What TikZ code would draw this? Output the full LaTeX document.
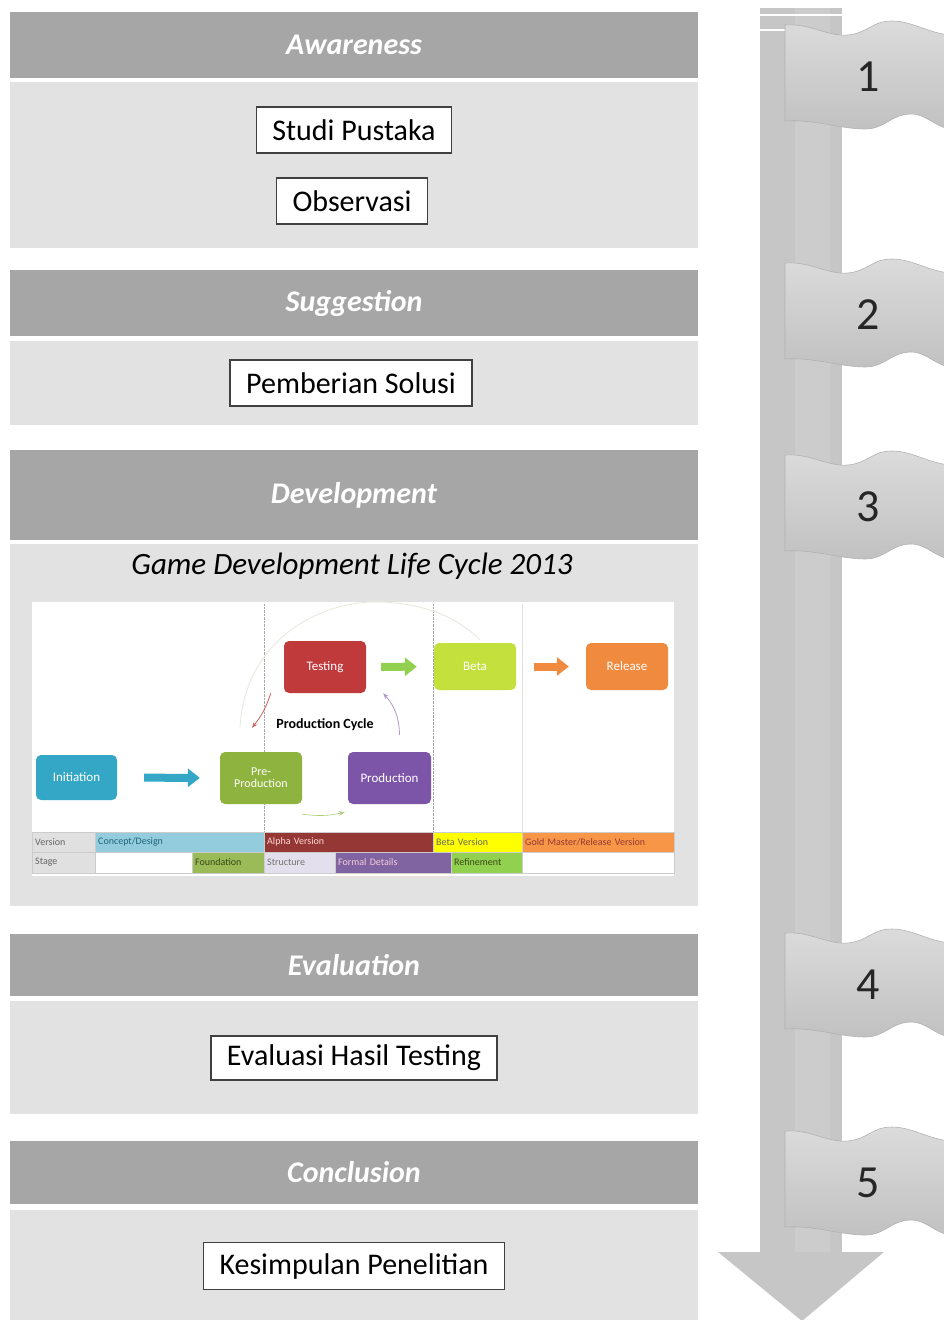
\documentclass[tikz,border=0pt]{standalone}
\usepackage{fontspec}
\setmainfont{Carlito}
\usepackage{tikz}
\usetikzlibrary{shapes,arrows,arrows.meta}
\definecolor{headgray}{HTML}{A6A6A6}
\definecolor{bodygray}{HTML}{E2E2E2}
\definecolor{shaftgray}{HTML}{C6C6C6}
\definecolor{flaggray}{HTML}{D2D2D2}
\definecolor{testred}{HTML}{C0393B}
\definecolor{betalime}{HTML}{C4E03C}
\definecolor{relorange}{HTML}{F08A3E}
\definecolor{initblue}{HTML}{35A7C6}
\definecolor{preolive}{HTML}{8EB43F}
\definecolor{prodpurple}{HTML}{7D55A8}
\definecolor{conceptblue}{HTML}{93CDDD}
\definecolor{alphared}{HTML}{953735}
\definecolor{betayellow}{HTML}{FFFF00}
\definecolor{goldorange}{HTML}{F79646}
\definecolor{foundgreen}{HTML}{9BBB59}
\definecolor{structlav}{HTML}{E4DFEC}
\definecolor{formalpurple}{HTML}{8064A2}
\definecolor{refgreen}{HTML}{92D050}
\tikzstyle{phasehead} = [rectangle, fill=headgray, minimum width=688pt, text=white, font=\fontsize{30}{31}\selectfont\bfseries\itshape]
\tikzstyle{phasebody} = [rectangle, fill=bodygray, minimum width=688pt]
\tikzstyle{stepbox} = [rectangle, draw=black!75, line width=1.6pt, fill=white, minimum height=46pt, inner xsep=16pt, font=\fontsize{30}{31}\selectfont]
\tikzstyle{stagebox} = [rectangle, rounded corners=5pt, text=white, minimum width=82pt, minimum height=50pt, align=center, font=\fontsize{13}{13}\selectfont]
\tikzstyle{blockarrow} = [draw, line width=8pt, -{Triangle[length=12pt,width=18pt]}]
\tikzstyle{cyclearrow} = [draw, line width=0.8pt, -{Stealth[length=6pt]}]
\tikzstyle{tablecell} = [rectangle, draw=black!20, line width=0.4pt, minimum height=20.5pt, inner xsep=3pt, inner ysep=0pt, anchor=west, align=left, font=\fontsize{10}{10}\selectfont]
\tikzstyle{flagshape} = [draw=black!30, line width=0.6pt, top color=flaggray!80!white, bottom color=flaggray!92!black]
\tikzstyle{stepnum} = [font=\fontsize{46}{48}\selectfont, text=black!85]

\begin{document}
\begin{tikzpicture}[x=1pt, y=-1pt]
    \useasboundingbox (0,0) rectangle (944,1320);
    % Place phases
    \node [phasehead, minimum height=66pt] (awhead) at (354,45) {Awareness};
    \node [phasebody, minimum height=166pt] (awbody) at (354,165) {};
    \node [stepbox] (studi) at (354,130) {Studi Pustaka};
    \node [stepbox] (obs) at (352,201) {Observasi};
    \node [phasehead, minimum height=66pt] (sghead) at (354,303) {Suggestion};
    \node [phasebody, minimum height=84pt] (sgbody) at (354,383) {};
    \node [stepbox] (solusi) at (351,383) {Pemberian Solusi};
    \node [phasehead, minimum height=90pt] (dvhead) at (354,495) {Development};
    \node [phasebody, minimum height=362pt] (dvbody) at (354,725) {};
    \node [font=\fontsize{31}{32}\selectfont\itshape] (gdlctitle) at (352,566) {Game Development Life Cycle 2013};
    \node [phasehead, minimum height=62pt] (evhead) at (354,965) {Evaluation};
    \node [phasebody, minimum height=113pt] (evbody) at (354,1057.5) {};
    \node [stepbox, minimum height=44pt] (evaluasi) at (354,1058) {Evaluasi Hasil Testing};
    \node [phasehead, minimum height=63pt] (cnhead) at (354,1172.5) {Conclusion};
    \node [phasebody, minimum height=110pt] (cnbody) at (354,1265) {};
    \node [stepbox, minimum height=47pt] (kesimpulan) at (354,1266) {Kesimpulan Penelitian};

    % Game development life cycle
    \node [rectangle, fill=white, minimum width=642pt, minimum height=274pt, inner sep=0pt] (gdlc) at (353,739) {};
    \draw [densely dotted, black!35] (264,604) -- (264,832);
    \draw [densely dotted, black!35] (433,604) -- (433,832);
    \draw [black!12] (522,604) -- (522,832);
    \draw [line width=0.8pt, yellow!30!black!15] (240,727) .. controls (245,640) and (320,600) .. (380,602) .. controls (420,603) and (455,615) .. (480,640);
    \node [stagebox, fill=testred, minimum height=52pt] (testing) at (325,667) {Testing};
    \node [stagebox, fill=betalime, minimum height=47pt] (beta) at (475,666.5) {Beta};
    \node [stagebox, fill=relorange, minimum height=47pt] (release) at (627,666.5) {Release};
    \node [stagebox, fill=initblue, minimum width=81pt, minimum height=45pt] (initiation) at (76.5,777.5) {Initiation};
    \node [stagebox, fill=preolive, minimum height=52pt, font=\fontsize{12}{12}\selectfont] (preprod) at (261,778) {Pre-\\Production};
    \node [stagebox, fill=prodpurple, minimum width=83pt, minimum height=52pt] (production) at (389.5,778) {Production};
    \node [font=\fontsize{14}{14}\selectfont\bfseries] (cyclelabel) at (325,725) {Production Cycle};
    % Draw edges
    \path [blockarrow, draw=initblue, shorten <=27pt, shorten >=20pt] (initiation) -- (preprod);
    \path [blockarrow, draw=refgreen, shorten <=15pt, shorten >=17pt] (testing) -- (beta);
    \path [blockarrow, draw=relorange, shorten <=18pt, shorten >=17pt] (beta) -- (release);
    \path [cyclearrow, draw=testred!80] ([xshift=-13pt]testing.south west) to[bend left=10] ([xshift=-9pt, yshift=24pt]preprod.north);
    \path [cyclearrow, draw=prodpurple!60] ([xshift=10pt, yshift=17pt]production.north) to[bend right=20] ([xshift=17pt]testing.south east);
    \path [cyclearrow, draw=preolive!70, line width=0.6pt] ([yshift=-10pt]preprod.south east) to[bend right=10] ([xshift=-3pt, yshift=-8pt]production.south west);

    % Version and stage table
    \node [tablecell, fill=black!12, text=black!60, text width=57pt] (version) at (32,842) {Version};
    \node [tablecell, fill=conceptblue, text=initblue!60!black, text width=163pt] (concept) at (95,842) {Concept/Design};
    \node [tablecell, fill=alphared, text=white!85!red, text width=163pt] (alpha) at (264,842) {Alpha Version};
    \node [tablecell, fill=betayellow, text=black!60, text width=83pt] (betaver) at (433,842) {Beta Version};
    \node [tablecell, fill=goldorange, text=alphared, text width=146pt] (gold) at (522,842) {Gold Master/Release Version};
    \node [tablecell, fill=black!12, text=black!60, text width=57pt] (stage) at (32,862.5) {Stage};
    \node [tablecell, fill=white, text width=91pt] (blankleft) at (95,862.5) {};
    \node [tablecell, fill=foundgreen, text=preolive!40!black, text width=66pt] (foundation) at (192,862.5) {Foundation};
    \node [tablecell, fill=structlav, text=black!55, text width=65pt] (structure) at (264,862.5) {Structure};
    \node [tablecell, fill=formalpurple, text=white!80!purple, text width=110pt] (formal) at (335,862.5) {Formal Details};
    \node [tablecell, fill=refgreen, text=preolive!40!black, text width=65pt] (refinement) at (451,862.5) {Refinement};
    \node [tablecell, fill=white, text width=146pt] (blankright) at (522,862.5) {};

    % Progress arrow and flags
    \fill [shaftgray] (760,8) rectangle (842,1253);
    \fill [shaftgray!70!white, opacity=0.4] (795,8) rectangle (830,1253);
    \fill [shaftgray] (718,1252) -- (884,1252) -- (802,1321) -- cycle;
    \draw [white, line width=2pt] (760,15) -- (842,15);
    \draw [white, line width=1.5pt] (760,30) -- (785,30);
    \foreach \y/\n in {25/1,263/2,455/3,933/4,1131/5} {
        \path [flagshape] (785,\y) .. controls (810,\y-2) and (828,\y+12) .. (848,\y+10) .. controls (868,\y+8) and (872,\y-4) .. (892,\y-4) .. controls (912,\y-4) and (928,\y+8) .. (950,\y+10) -- (950,\y+104) .. controls (935,\y+102) and (925,\y+88) .. (910,\y+89) .. controls (890,\y+90) and (885,\y+104) .. (865,\y+104) .. controls (840,\y+104) and (815,\y+94) .. (785,\y+96) -- cycle;
        \node [stepnum] (num\n) at (868,\y+52) {\n};
    }
\end{tikzpicture}
\end{document}
